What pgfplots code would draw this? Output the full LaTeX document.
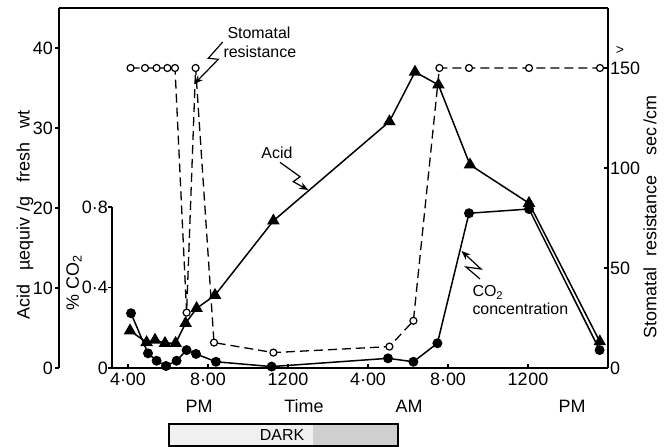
\documentclass[border=0pt]{standalone}
\usepackage{fontspec}
\setmainfont{Liberation Sans}
\usepackage{pgfplots}
\pgfplotsset{compat=1.18}
\usetikzlibrary{arrows.meta}

\newcommand{\lab}{\fontsize{18}{18}\selectfont}
\newcommand{\ann}{\fontsize{16}{16}\selectfont}

\pgfplotsset{
  every axis/.append style={
    scale only axis, clip=false,
    axis line style={-, line width=1.4bp},
    major tick length=4bp,
    tick style={line width=1.4bp, black},
    tick label style={font=\lab, inner sep=2bp},
    /pgf/number format/assume math mode=true,
  },
}

\begin{document}
\begin{tikzpicture}
\path[use as bounding box] (0,0) rectangle (671bp,447bp);

% acid, left outer axis
\begin{axis}[at={(59bp,79bp)}, anchor=south west, width=549bp, height=360bp,
  xmin=12.55, xmax=40, ymin=0, ymax=45,
  axis x line=none, axis y line*=left, tick align=outside,
  ytick={0,10,20,30,40}, yticklabels={0,10,20,30,40}]
\addplot[black, line width=1.5bp, mark=triangle*, mark size=5.8bp] coordinates {
  (16.10,4.66) (16.93,3.2) (17.35,3.5) (17.85,3.1) (18.38,3.1)
  (18.88,5.6) (19.43,7.46) (20.35,9.1) (23.27,18.4) (29.07,30.8)
  (30.35,37.0) (31.52,35.4) (33.10,25.4) (36.05,20.6) (39.59,3.3)
};
\draw[line width=1.4bp] (rel axis cs:0,1) -- (rel axis cs:1,1);
\end{axis}

% stomatal resistance, right axis
\begin{axis}[at={(59bp,79bp)}, anchor=south west, width=549bp, height=360bp,
  xmin=12.55, xmax=40, ymin=0, ymax=180,
  axis x line=none, axis y line*=right, tick align=inside,
  ytick={0,50,100,150}, yticklabels={0,50,100,150}]
\addplot[black, line width=1.3bp, dash pattern=on 9bp off 5bp,
  mark=*, mark size=3.5bp, mark options={solid, fill=white, draw=black, line width=1.2bp}] coordinates {
  (16.13,150) (16.85,150) (17.43,150) (17.97,150) (18.35,150)
  (18.93,27.7) (19.38,150) (20.30,12.7) (23.27,7.7) (29.07,10.7)
  (30.27,23.6) (31.57,150) (33.05,150) (36.05,150) (39.60,150)
};
\end{axis}

% CO2, inner axis with the time axis
\begin{axis}[at={(112bp,79bp)}, anchor=south west, width=496bp, height=161bp,
  xmin=15.2, xmax=40, ymin=0, ymax=0.8,
  axis x line*=bottom, axis y line*=left, tick align=inside,
  every y tick/.append style={xshift=-4bp},
  yticklabel style={xshift=-2bp},
  xticklabel style={yshift=-3bp},
  xtick={16,20,24,28,32,36},
  xticklabels={4·00,8·00,12\kern1bp00,4·00,8·00,12\kern1bp00},
  ytick={0,0.4,0.8}, yticklabels={0,0·4,0·8}]
\addplot[black, line width=1.5bp, mark=*, mark size=4.2bp] coordinates {
  (16.15,0.272) (17.00,0.073) (17.43,0.036) (17.90,0.010) (18.43,0.036)
  (18.93,0.089) (19.40,0.070) (20.40,0.031) (23.18,0.007) (29.00,0.048)
  (30.27,0.031) (31.47,0.123) (33.05,0.769) (36.05,0.790) (39.58,0.089)
};
\end{axis}

% axis titles
\node[rotate=90, font=\lab] at (25bp,232bp) {Acid\hspace{0.8em}µequiv\hspace{0.3em}/g\hspace{0.8em}fresh\hspace{0.8em}wt};
\node[rotate=90, font=\lab] at (74bp,164bp) {\%\hspace{0.3em}CO\textsubscript{2}};
\node[rotate=90, font=\lab] at (650bp,230bp) {Stomatal\hspace{0.6em}resistance\hspace{1.1em}sec\,/cm};
\node[font=\fontsize{14}{14}\selectfont] at (620bp,397bp) {>};

% time labels
\node[font=\lab] at (199bp,41bp) {PM};
\node[font=\lab] at (304bp,41bp) {Time};
\node[font=\lab] at (409bp,41bp) {AM};
\node[font=\lab] at (572bp,41bp) {PM};

% dark period bar
\fill[gray!12] (169bp,1bp) rectangle (313bp,23bp);
\fill[gray!38] (313bp,1bp) rectangle (398bp,23bp);
\draw[line width=1.2bp] (169bp,1bp) rectangle (398bp,23bp);
\node[font=\ann] at (282bp,12bp) {DARK};

% annotations
\node[font=\ann, anchor=west] at (224bp,414bp) {Stomatal};
\node[font=\ann, anchor=west] at (220bp,395bp) {resistance};
\draw[line width=1.2bp, -{Stealth[length=9bp,width=7bp]}]
  (222.7bp,405bp) -- (208.3bp,388.7bp) -- (218.3bp,387.7bp) -- (194.3bp,363bp);

\node[font=\ann] at (277bp,294bp) {Acid};
\draw[line width=1.2bp, -{Stealth[length=9bp,width=7bp]}]
  (280bp,284.7bp) -- (300bp,270.3bp) -- (293.3bp,265.3bp) -- (308.3bp,257bp);

\node[font=\ann, anchor=base west] at (469bp,150bp) {CO\textsubscript{2}};
\node[font=\ann, anchor=base west] at (469bp,132bp) {concentration};
\draw[line width=1.2bp, -{Stealth[length=9bp,width=7bp]}]
  (480bp,168bp) -- (466bp,180bp) -- (481bp,178bp) -- (461.5bp,196bp);
\end{tikzpicture}
\end{document}
